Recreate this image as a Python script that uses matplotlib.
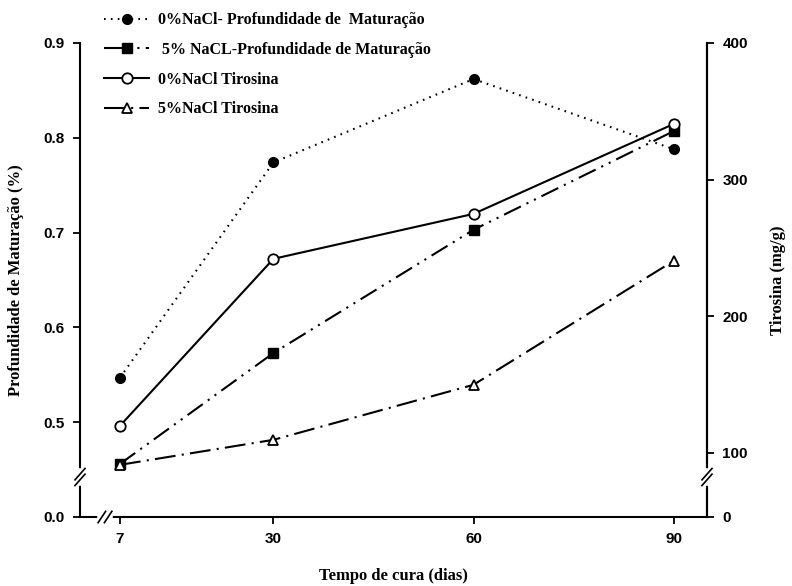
import matplotlib
matplotlib.use("Agg")
import matplotlib.pyplot as plt

# ---- data ----
dias = [7, 30, 60, 90]
prof_0nacl = [0.547, 0.774, 0.862, 0.788]
prof_5nacl = [0.456, 0.573, 0.703, 0.807]
tiros_0nacl = [119.8, 242.0, 274.9, 340.7]
tiros_5nacl = [91.2, 109.5, 149.8, 240.5]

labels = ["0%NaCl- Profundidade de  Maturação",
          " 5% NaCL-Profundidade de Maturação",
          "0%NaCl Tirosina",
          "5%NaCl Tirosina"]
left_ticks = [0.4, 0.5, 0.6, 0.7, 0.8, 0.9]
left_ticklabels = ["0.0", "0.5", "0.6", "0.7", "0.8", "0.9"]
right_ticks = [53, 100, 200, 300, 400]
right_ticklabels = ["0", "100", "200", "300", "400"]
x_ticks = [7, 30, 60, 90]

serif = "Liberation Serif"
sans = "Liberation Sans"

fig = plt.figure(figsize=(7.92, 5.86), dpi=100)
L, R, B, T = 80/792, 707/792, 1-517/586, 1-43/586
ax = fig.add_axes([L, B, R-L, T-B])
ax2 = ax.twinx()

lw = 1.5
l1, = ax.plot(dias, prof_0nacl, color="black", lw=lw, linestyle=(0, (0.8, 2.5)),
              marker="o", ms=7, mfc="black", mec="black", label=labels[0])
l2, = ax.plot(dias, prof_5nacl, color="black", lw=lw, linestyle=(0, (9, 3, 1, 3, 1, 3)),
              marker="s", ms=6.5, mfc="black", mec="black", label=labels[1])
l3, = ax2.plot(dias, tiros_0nacl, color="black", lw=lw, linestyle="-",
               marker="o", ms=7.5, mfc="white", mec="black", mew=1.3, label=labels[2])
l4, = ax2.plot(dias, tiros_5nacl, color="black", lw=lw, linestyle=(0, (10, 3, 1, 3)),
               marker="^", ms=7.5, mfc="white", mec="black", mew=1.3, label=labels[3])

ax.set_xlim(1, 95)
ax.set_ylim(0.4, 0.9)
ax2.set_ylim(53, 400)

ax.set_xticks(x_ticks)
ax.set_xticklabels([str(v) for v in x_ticks])
ax.set_yticks(left_ticks)
ax.set_yticklabels(left_ticklabels)
ax2.set_yticks(right_ticks)
ax2.set_yticklabels(right_ticklabels)

for a in (ax, ax2):
    a.spines["top"].set_visible(False)
    for s in a.spines.values():
        s.set_linewidth(1.5)
    a.tick_params(direction="out", length=5, width=1.3, labelsize=11, pad=6)
    for lab in a.get_xticklabels() + a.get_yticklabels():
        lab.set_fontfamily(sans)
        lab.set_fontweight("bold")
ax2.spines["left"].set_visible(False)
ax2.spines["bottom"].set_visible(False)

ax.set_xlabel("Tempo de cura (dias)", fontfamily=serif, fontweight="bold",
              fontsize=12, labelpad=16)
ax.set_ylabel("Profundidade de Maturação (%)", fontfamily=serif, fontweight="bold",
              fontsize=12, labelpad=14)
ax2.set_ylabel("Tirosina (mg/g)", fontfamily=serif, fontweight="bold",
               fontsize=12, labelpad=16)

# axis break marks
def vbreak(a, x, y):
    a.plot([x, x], [y - 0.012, y + 0.012], transform=a.transAxes, color="white",
           lw=4, clip_on=False, zorder=5)
    for dy in (-0.006, 0.006):
        a.plot([x - 0.008, x + 0.008], [y + dy - 0.012, y + dy + 0.012],
               transform=a.transAxes, color="black", lw=1.2, clip_on=False, zorder=6)

def hbreak(a, x, y):
    a.plot([x - 0.008, x + 0.008], [y, y], transform=a.transAxes, color="white",
           lw=4, clip_on=False, zorder=5)
    for dx in (-0.005, 0.005):
        a.plot([x + dx - 0.006, x + dx + 0.006], [y - 0.012, y + 0.012],
               transform=a.transAxes, color="black", lw=1.2, clip_on=False, zorder=6)

yb = 40/474
vbreak(ax2, 0.0, yb)
vbreak(ax2, 1.0, yb)
hbreak(ax2, 25/627, 0.0)

leg = fig.legend(handles=[l1, l2, l3, l4], loc="upper left",
                 bbox_to_anchor=(90/792, 1 + 2/586), frameon=False,
                 handlelength=2.8, handletextpad=0.55, labelspacing=0.85,
                 prop={"family": serif, "weight": "bold", "size": 11.5})

fig.savefig("out.png", dpi=100)
